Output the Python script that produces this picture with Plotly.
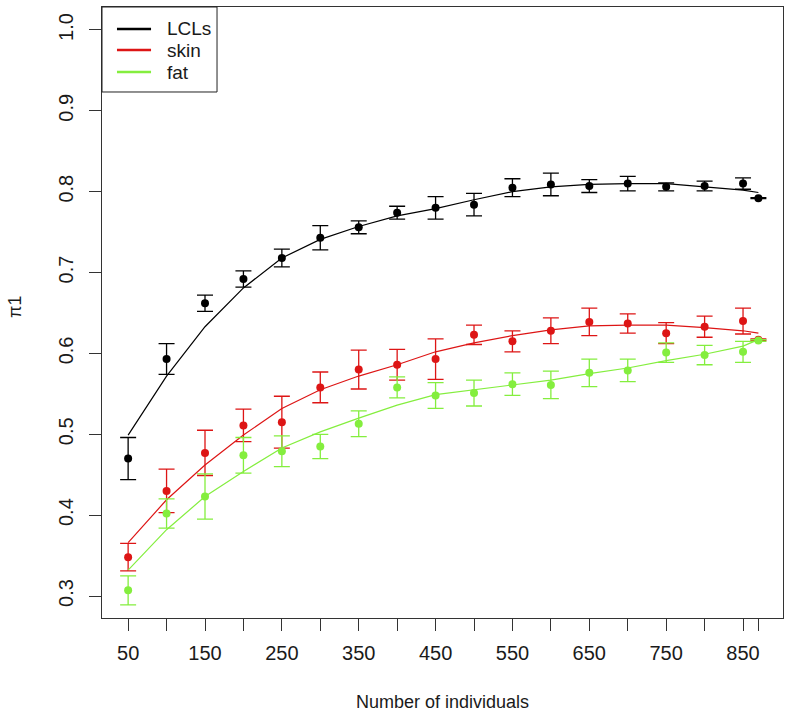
import plotly.graph_objects as go

# ---- data ----
n_individuals = [50, 100, 150, 200, 250, 300, 350, 400, 450, 500, 550, 600,
                 650, 700, 750, 800, 850, 870]

lcl_mean = [0.470, 0.593, 0.662, 0.692, 0.718, 0.743, 0.756, 0.774, 0.780, 0.784,
            0.805, 0.809, 0.807, 0.810, 0.806, 0.807, 0.810, 0.792]
lcl_err = [0.026, 0.019, 0.010, 0.010, 0.011, 0.015, 0.008, 0.008, 0.014, 0.014,
           0.011, 0.014, 0.008, 0.009, 0.005, 0.006, 0.007, 0.0005]
lcl_fit = [0.499, 0.572, 0.633, 0.681, 0.718, 0.741, 0.757, 0.770, 0.779, 0.790,
           0.800, 0.806, 0.809, 0.810, 0.810, 0.806, 0.802, 0.799]

skin_mean = [0.348, 0.430, 0.477, 0.511, 0.515, 0.558, 0.580, 0.586, 0.593, 0.623,
             0.615, 0.628, 0.639, 0.637, 0.625, 0.633, 0.640, 0.617]
skin_err = [0.017, 0.027, 0.028, 0.020, 0.032, 0.019, 0.024, 0.019, 0.025, 0.012,
            0.013, 0.016, 0.017, 0.012, 0.013, 0.013, 0.016, 0.001]
skin_fit = [0.366, 0.419, 0.462, 0.499, 0.532, 0.555, 0.572, 0.586, 0.602, 0.613,
            0.622, 0.629, 0.634, 0.635, 0.635, 0.632, 0.628, 0.625]

fat_mean = [0.307, 0.402, 0.423, 0.474, 0.479, 0.485, 0.513, 0.558, 0.548, 0.551,
            0.562, 0.561, 0.576, 0.579, 0.601, 0.598, 0.602, 0.616]
fat_err = [0.018, 0.018, 0.028, 0.022, 0.019, 0.015, 0.016, 0.013, 0.016, 0.016,
           0.014, 0.017, 0.017, 0.014, 0.012, 0.012, 0.013, 0.001]
fat_fit = [0.332, 0.382, 0.423, 0.454, 0.483, 0.503, 0.520, 0.536, 0.549, 0.555,
           0.561, 0.567, 0.575, 0.582, 0.591, 0.599, 0.609, 0.617]

series_names = ["LCLs", "skin", "fat"]
series_colors = ["#000000", "#DD1515", "#84EE3E"]

x_tick_vals = [50, 100, 150, 200, 250, 300, 350, 400, 450, 500, 550, 600,
               650, 700, 750, 800, 850, 870]
x_tick_text = ["50", "", "150", "", "250", "", "350", "", "450", "", "550", "",
               "650", "", "750", "", "850", ""]
y_tick_vals = [0.3, 0.4, 0.5, 0.6, 0.7, 0.8, 0.9, 1.0]
y_tick_text = ["0.3", "0.4", "0.5", "0.6", "0.7", "0.8", "0.9", "1.0"]

means = [lcl_mean, skin_mean, fat_mean]
errs = [lcl_err, skin_err, fat_err]
fits = [lcl_fit, skin_fit, fat_fit]

FONT = "Liberation Sans, Arial, sans-serif"
TXT = "#1a1a1a"

fig = go.Figure()

for name, col, m, e, f in zip(series_names, series_colors, means, errs, fits):
    fig.add_trace(go.Scatter(
        x=n_individuals, y=f, mode="lines", name=name,
        line=dict(color=col, width=1.2),
        showlegend=False, hoverinfo="skip"))
    fig.add_trace(go.Scatter(
        x=n_individuals, y=m, mode="markers", name=name,
        marker=dict(color=col, size=8),
        error_y=dict(type="data", array=e, visible=True, color=col,
                     thickness=1.3, width=8),
        showlegend=False))

# ---- hand-drawn R-style legend (box, swatches, labels) ----
shapes = [dict(type="rect", xref="paper", yref="paper",
               x0=0, x1=0.1689, y0=0.8609, y1=1.0,
               line=dict(color="#222", width=1), fillcolor="white", layer="above")]
annotations = []
legend_rows = [0.964, 0.9296, 0.8936]
for name, col, ry in zip(series_names, series_colors, legend_rows):
    shapes.append(dict(type="line", xref="paper", yref="paper",
                       x0=0.022, x1=0.072, y0=ry, y1=ry,
                       line=dict(color=col, width=2.6), layer="above"))
    annotations.append(dict(text=name, xref="paper", yref="paper",
                            x=0.0925, y=ry, xanchor="left", yanchor="middle",
                            showarrow=False, font=dict(size=19, color=TXT)))

annotations += [
    dict(text="Number of individuals", xref="paper", yref="paper",
         x=0.5, y=-0.1375, xanchor="center", yanchor="middle",
         showarrow=False, font=dict(size=18, color=TXT)),
    dict(text="π1", xref="paper", yref="paper",
         x=-0.1278, y=0.509, xanchor="center", yanchor="middle",
         textangle=-90, showarrow=False, font=dict(size=18, color=TXT)),
]

fig.update_layout(
    width=791, height=716,
    margin=dict(l=102, r=8, t=7, b=98),
    paper_bgcolor="white", plot_bgcolor="white",
    font=dict(family=FONT, color=TXT, size=16),
    showlegend=False,
    shapes=shapes,
    annotations=annotations,
    xaxis=dict(
        range=[16, 902], tickmode="array", tickvals=x_tick_vals, ticktext=x_tick_text,
        ticks="outside", ticklen=12, tickwidth=1, tickcolor="#333",
        showline=True, linecolor="#333", linewidth=1, mirror=True,
        showgrid=False, zeroline=False, ticklabelstandoff=5, automargin=False,
        tickfont=dict(size=20),
    ),
    yaxis=dict(
        range=[0.2728, 1.0284], tickmode="array", tickvals=y_tick_vals, ticktext=y_tick_text,
        ticks="outside", ticklen=12, tickwidth=1, tickcolor="#333",
        showline=True, linecolor="#333", linewidth=1, mirror=True,
        showgrid=False, zeroline=False, tickangle=-90, ticklabelstandoff=8,
        automargin=False, tickfont=dict(size=20),
    ),
)

fig.write_html(
    "out.html",
    config={"displayModeBar": False},
    post_script="document.body.style.margin='0';document.body.style.overflow='hidden';",
)
